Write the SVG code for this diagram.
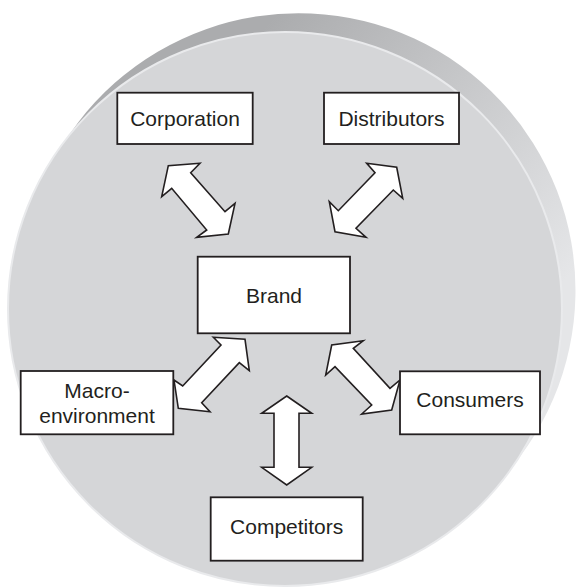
<svg xmlns="http://www.w3.org/2000/svg" width="582" height="587" viewBox="0 0 582 587">
  <defs>
    <linearGradient id="side" gradientUnits="userSpaceOnUse" x1="290" y1="0" x2="575" y2="270">
      <stop offset="0" stop-color="#abacae"/>
      <stop offset="0.45" stop-color="#c6c7c9"/>
      <stop offset="1" stop-color="#e5e6e8"/>
    </linearGradient>
    <style>
      .box { fill: #ffffff; stroke: #231f20; stroke-width: 1.8; }
      .lbl { font-family: "Liberation Sans", Arial, sans-serif; font-size: 21px; fill: #231f20; text-anchor: middle; }
      .arr { fill: #ffffff; stroke: #231f20; stroke-width: 1.6; stroke-linejoin: miter; }
    </style>
  </defs>
  <rect x="0" y="0" width="582" height="587" fill="#ffffff"/>
  <g id="disc">
    <path d="M 60.3 147.2 L 78.3 122.2 A 277 277 0 0 1 527.7 445.8 L 509.7 470.8 A 277 277 0 0 1 60.3 147.2 Z" fill="url(#side)"/>
    <circle cx="285" cy="309" r="277" fill="#d5d6d8" stroke="#e9eaec" stroke-width="2"/>
  </g>
  <g id="connectors">
    <polygon class="arr" points="200,163.3 168.3,165.7 161.7,196.7 171.7,188.3 206.7,230 196.7,237.3 228.3,234 235,203.3 225,211.7 190.7,172.7"/>
    <polygon class="arr" points="366.7,163.3 396.7,167.3 402.7,198.3 393.3,190 356,228.3 366,237.3 335,231.7 329.3,201.7 338.3,210.7 375,172.7"/>
    <polygon class="arr" points="213.3,337.3 245,339.3 249.3,370.7 239.3,362.7 201.7,402.7 210,411.7 178.3,408.3 174,380 182.7,386 221,345"/>
    <polygon class="arr" points="363.3,340.7 331.7,345 325.7,375 335,366.7 371.7,405 361.7,414 391.7,410 400,380 390,388.3 353.3,348.3"/>
    <polygon class="arr" points="286.7,396 311.7,413.3 299,413.3 299,467.3 311.7,467.3 286.7,485 261.7,467.3 274,467.3 274,413.3 261.7,413.3"/>
  </g>
  <g id="corporation">
    <rect class="box" x="117.3" y="92.7" width="135.4" height="51.3"/>
    <text class="lbl" x="185" y="125.5">Corporation</text>
  </g>
  <g id="distributors">
    <rect class="box" x="324" y="92.7" width="135" height="51.3"/>
    <text class="lbl" x="391.5" y="125.5">Distributors</text>
  </g>
  <g id="brand">
    <rect class="box" x="197.7" y="256.7" width="152.3" height="76.6"/>
    <text class="lbl" x="274" y="302.7">Brand</text>
  </g>
  <g id="macro-environment">
    <rect class="box" x="20.7" y="371" width="152.6" height="63.3"/>
    <text class="lbl" x="97" y="397.7">Macro-</text>
    <text class="lbl" x="97" y="422.7">environment</text>
  </g>
  <g id="consumers">
    <rect class="box" x="400" y="371.3" width="140" height="63"/>
    <text class="lbl" x="470" y="407.3">Consumers</text>
  </g>
  <g id="competitors">
    <rect class="box" x="210.7" y="497.3" width="152" height="63.4"/>
    <text class="lbl" x="286.7" y="534">Competitors</text>
  </g>
</svg>
